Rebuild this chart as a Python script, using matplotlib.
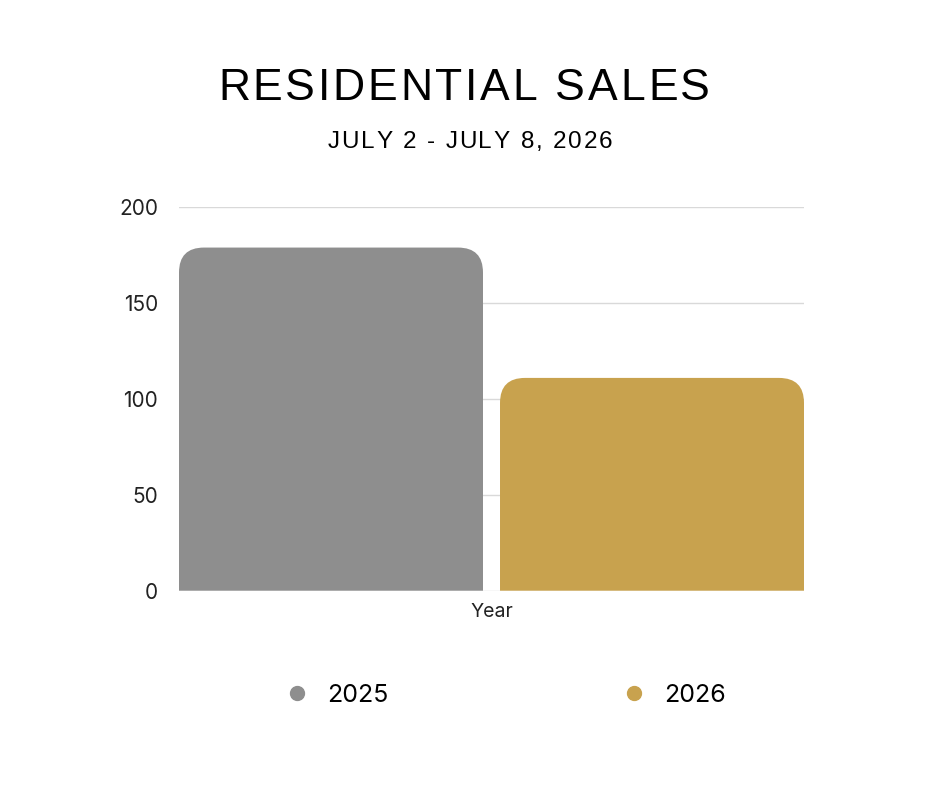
import matplotlib
matplotlib.use("Agg")
import matplotlib.pyplot as plt
from matplotlib.path import Path
from matplotlib.patches import PathPatch
from matplotlib.lines import Line2D

years = ["2025", "2026"]
sales = [179, 111]
colors = ["#8e8e8e", "#c8a24e"]
yticks = [0, 50, 100, 150, 200]
title = "RESIDENTIAL SALES"
subtitle = "JULY 2 - JULY 8, 2026"
xlabel = "Year"

DPI = 100
W, H = 940, 788
fig = plt.figure(figsize=(W/DPI, H/DPI), dpi=DPI)
ax = fig.add_axes([179/W, 1-590.7/H, 625/W, (590.7-207.3)/H])

w = 0.947
xs = list(range(len(years)))
bars = ax.bar(xs, sales, width=w, color=colors, zorder=2)
ax.set_xlim(-w/2, len(years)-1+w/2)
ax.set_ylim(0, 200)
ax.set_yticks(yticks)
ax.set_yticklabels([str(t) for t in yticks], fontsize=15, family="Inter", color="#222222")
ax.tick_params(axis="y", length=0, pad=15)
ax.set_xticks([])
ax.grid(axis="y", color="#d9d9d9", linewidth=1, zorder=0)
ax.set_axisbelow(True)
for s in ax.spines.values():
    s.set_visible(False)
ax.set_xlabel(xlabel, fontsize=14, family="Inter", color="#222222", labelpad=9)

fig.canvas.draw()
renderer = fig.canvas.get_renderer()
r = 25
for b in bars:
    (x0, y0), (x1, y1) = b.get_window_extent().get_points()
    verts = [(x0, y0), (x0, y1 - r), (x0, y1), (x0 + r, y1),
             (x1 - r, y1), (x1, y1), (x1, y1 - r), (x1, y0), (x0, y0)]
    codes = [Path.MOVETO, Path.LINETO, Path.CURVE3, Path.CURVE3,
             Path.LINETO, Path.CURVE3, Path.CURVE3, Path.LINETO, Path.CLOSEPOLY]
    p = PathPatch(Path(verts, codes), facecolor=b.get_facecolor(), edgecolor="none",
                  transform=None, zorder=2)
    fig.add_artist(p)
    b.set_visible(False)


def spaced_text(s, cx_px, base_px, size, track_px, family="Liberation Sans"):
    widths = []
    for ch in s:
        t = fig.text(0, 0, ch if ch != " " else "a a", fontsize=size, family=family)
        wd = t.get_window_extent(renderer).width
        if ch == " ":
            t2 = fig.text(0, 0, "aa", fontsize=size, family=family)
            wd = wd - t2.get_window_extent(renderer).width
            t2.remove()
        widths.append(wd)
        t.remove()
    total = sum(widths) + track_px * (len(s) - 1)
    x = cx_px - total / 2
    for ch, wd in zip(s, widths):
        if ch != " ":
            fig.text(x / W, 1 - base_px / H, ch, fontsize=size, family=family,
                     ha="left", va="baseline", color="#000000")
        x += wd + track_px


spaced_text(title, 464, 100, 32, 2.8)
spaced_text(subtitle, 470, 148, 17.5, 1.85)

handles = [Line2D([], [], marker="o", linestyle="none", markersize=10,
                  markerfacecolor=c, markeredgecolor=c) for c in colors]
fig.legend(handles, years, loc="center", bbox_to_anchor=(499/W, 1-695/H),
           ncol=2, frameon=False, prop={"family": "Inter", "size": 18},
           columnspacing=8.8, handletextpad=0.2)

fig.savefig("out.png", dpi=DPI, facecolor="white")
